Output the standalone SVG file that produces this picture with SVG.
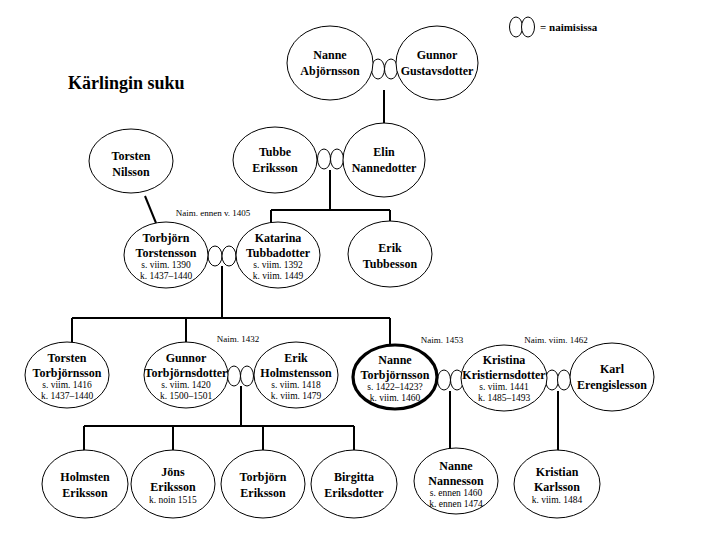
<svg xmlns="http://www.w3.org/2000/svg" width="720" height="540" viewBox="0 0 720 540">
<style>
.n{fill:#fff;stroke:#000;stroke-width:1}
.b{fill:#fff;stroke:#000;stroke-width:3.2}
.r{fill:#fff;stroke:#000;stroke-width:1}
.c{fill:none;stroke:#000;stroke-width:2}
text{font-family:"Liberation Serif","Times New Roman",serif;fill:#000;text-anchor:middle}
.t{font-size:12px;font-weight:bold}
.d{font-size:9.5px}
.s{font-size:9px}
</style>
<rect width="720" height="540" fill="#fff"/>
<text x="68" y="89" style="font-size:18px;font-weight:bold;text-anchor:start">Kärlingin suku</text>
<g id="legend">
<ellipse class="r" cx="516" cy="27" rx="6.5" ry="10"/>
<ellipse class="r" cx="528" cy="27" rx="6.5" ry="10"/>
<text x="540" y="31" style="font-size:11px;font-weight:bold;text-anchor:start">= naimisissa</text>
</g>
<g id="connectors">
<path class="c" d="M384,90 V124"/>
<path class="c" d="M330,170 V210 M271,210 H390 M271,210 V223 M390,210 V221"/>
<path class="c" d="M145,196 L156,223"/>
<path class="c" d="M222,266 V318 M72,318 H390 M72,318 V342 M186,318 V343 M390,318 V345"/>
<path class="c" d="M241,386 V426 M84,426 H354 M84,426 V451 M173,426 V451 M263,426 V451 M354,426 V451"/>
<path class="c" d="M450,391 V449"/>
<path class="c" d="M558,391 V451"/>
</g>
<g id="labels">
<text class="s" x="213" y="216">Naim. ennen v. 1405</text>
<text class="s" x="238" y="342">Naim. 1432</text>
<text class="s" x="442" y="343">Naim. 1453</text>
<text class="s" x="556" y="343">Naim. viim. 1462</text>
</g>
<g id="marriage-rings">
<ellipse class="r" cx="378" cy="69" rx="6.5" ry="10"/><ellipse class="r" cx="391" cy="69" rx="6.5" ry="10"/>
<ellipse class="r" cx="324" cy="159" rx="6.5" ry="10"/><ellipse class="r" cx="337" cy="159" rx="6.5" ry="10"/>
<ellipse class="r" cx="215" cy="256" rx="7" ry="10"/><ellipse class="r" cx="229" cy="256" rx="7" ry="10"/>
<ellipse class="r" cx="234" cy="376" rx="6.5" ry="10"/><ellipse class="r" cx="247" cy="376" rx="6.5" ry="10"/>
<ellipse class="r" cx="444" cy="380" rx="6.5" ry="10"/><ellipse class="r" cx="457" cy="380" rx="6.5" ry="10"/>
<ellipse class="r" cx="552" cy="380" rx="6.5" ry="10"/><ellipse class="r" cx="564" cy="380" rx="6.5" ry="10"/>
</g>
<g id="nanne-abjornsson"><ellipse class="n" cx="330" cy="63" rx="43" ry="37"/><text class="t" x="330" y="59">Nanne</text><text class="t" x="330" y="75">Abjörnsson</text></g>
<g id="gunnor-gustavsdotter"><ellipse class="n" cx="437" cy="63" rx="41" ry="37"/><text class="t" x="437" y="59">Gunnor</text><text class="t" x="437" y="75">Gustavsdotter</text></g>
<g id="tubbe-eriksson"><ellipse class="n" cx="275" cy="160" rx="42" ry="33"/><text class="t" x="275" y="156">Tubbe</text><text class="t" x="275" y="172">Eriksson</text></g>
<g id="elin-nannedotter"><ellipse class="n" cx="384" cy="160" rx="41" ry="37"/><text class="t" x="384" y="156">Elin</text><text class="t" x="384" y="172">Nannedotter</text></g>
<g id="torsten-nilsson"><ellipse class="n" cx="131" cy="161" rx="42" ry="32"/><text class="t" x="131" y="160">Torsten</text><text class="t" x="131" y="176">Nilsson</text></g>
<g id="torbjorn-torstensson"><ellipse class="n" cx="166" cy="255" rx="42" ry="33"/><text class="t" x="166" y="242">Torbjörn</text><text class="t" x="166" y="257">Torstensson</text><text class="d" x="166" y="268">s. viim. 1390</text><text class="d" x="166" y="279">k. 1437–1440</text></g>
<g id="katarina-tubbadotter"><ellipse class="n" cx="278" cy="255" rx="42" ry="33"/><text class="t" x="278" y="242">Katarina</text><text class="t" x="278" y="257">Tubbadotter</text><text class="d" x="278" y="268">s. viim. 1392</text><text class="d" x="278" y="279">k. viim. 1449</text></g>
<g id="erik-tubbesson"><ellipse class="n" cx="390" cy="254" rx="42" ry="33"/><text class="t" x="390" y="252">Erik</text><text class="t" x="390" y="268">Tubbesson</text></g>
<g id="torsten-torbjornsson"><ellipse class="n" cx="67" cy="375" rx="42" ry="33"/><text class="t" x="67" y="362">Torsten</text><text class="t" x="67" y="377">Torbjörnsson</text><text class="d" x="67" y="388">s. viim. 1416</text><text class="d" x="67" y="399">k. 1437–1440</text></g>
<g id="gunnor-torbjornsdotter"><ellipse class="n" cx="186" cy="375" rx="42" ry="33"/><text class="t" x="186" y="362">Gunnor</text><text class="t" x="186" y="377">Torbjörnsdotter</text><text class="d" x="186" y="388">s. viim. 1420</text><text class="d" x="186" y="399">k. 1500–1501</text></g>
<g id="erik-holmstensson"><ellipse class="n" cx="296" cy="375" rx="42" ry="33"/><text class="t" x="296" y="362">Erik</text><text class="t" x="296" y="377">Holmstensson</text><text class="d" x="296" y="388">s. viim. 1418</text><text class="d" x="296" y="399">k. viim. 1479</text></g>
<g id="nanne-torbjornsson"><ellipse class="b" cx="395" cy="377" rx="42" ry="32"/><text class="t" x="395" y="364">Nanne</text><text class="t" x="395" y="379">Torbjörnsson</text><text class="d" x="395" y="390">s. 1422–1423?</text><text class="d" x="395" y="401">k. viim. 1460</text></g>
<g id="kristina-kristiernsdotter"><ellipse class="n" cx="504" cy="378" rx="43" ry="33"/><text class="t" x="504" y="364">Kristina</text><text class="t" x="504" y="379">Kristiernsdotter</text><text class="d" x="504" y="390">s. viim. 1441</text><text class="d" x="504" y="401">k. 1485–1493</text></g>
<g id="karl-erengislesson"><ellipse class="n" cx="612" cy="377" rx="42" ry="34"/><text class="t" x="612" y="373">Karl</text><text class="t" x="612" y="389">Erengislesson</text></g>
<g id="holmsten-eriksson"><ellipse class="n" cx="85" cy="484" rx="43" ry="34"/><text class="t" x="85" y="481">Holmsten</text><text class="t" x="85" y="497">Eriksson</text></g>
<g id="jons-eriksson"><ellipse class="n" cx="173" cy="484" rx="42" ry="34"/><text class="t" x="173" y="476">Jöns</text><text class="t" x="173" y="491">Eriksson</text><text class="d" x="173" y="503">k. noin 1515</text></g>
<g id="torbjorn-eriksson"><ellipse class="n" cx="263" cy="484" rx="42" ry="34"/><text class="t" x="263" y="481">Torbjörn</text><text class="t" x="263" y="497">Eriksson</text></g>
<g id="birgitta-eriksdotter"><ellipse class="n" cx="354" cy="484" rx="43" ry="34"/><text class="t" x="354" y="481">Birgitta</text><text class="t" x="354" y="497">Eriksdotter</text></g>
<g id="nanne-nannesson"><ellipse class="n" cx="456" cy="481" rx="42" ry="33"/><text class="t" x="456" y="470">Nanne</text><text class="t" x="456" y="485">Nannesson</text><text class="d" x="456" y="496">s. ennen 1460</text><text class="d" x="456" y="507">k. ennen 1474</text></g>
<g id="kristian-karlsson"><ellipse class="n" cx="557" cy="484" rx="43" ry="34"/><text class="t" x="557" y="476">Kristian</text><text class="t" x="557" y="491">Karlsson</text><text class="d" x="557" y="503">k. viim. 1484</text></g>
</svg>
